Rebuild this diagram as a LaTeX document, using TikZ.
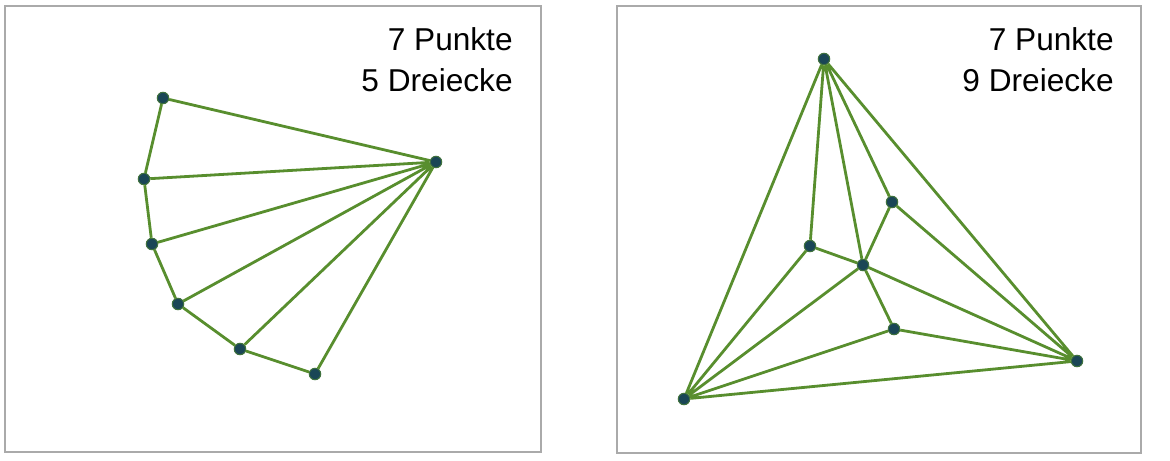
\documentclass[tikz,border=0pt]{standalone}
\usepackage{fontspec}
\setmainfont{Liberation Sans}
\usetikzlibrary{positioning}

\definecolor{edgegreen}{RGB}{88,142,46}
\definecolor{dotblue}{RGB}{26,70,86}
\definecolor{framegray}{RGB}{170,170,170}

\begin{document}
\begin{tikzpicture}[x=0.02cm,y=-0.02cm,
		pt/.style={circle,inner sep=0pt,minimum size=0.23cm,
			fill=dotblue,draw=edgegreen!60!dotblue,line width=0.6pt},
		seg/.style={draw=edgegreen,line width=0.056cm},
		frame/.style={draw=framegray,line width=0.04cm},
		info/.style={anchor=base east,inner sep=0pt,
			font=\fontsize{18}{23}\selectfont}]

\useasboundingbox (0,0) rectangle (1170,460);

% Frames
\node[frame,inner sep=0pt,minimum width=10.72cm,minimum height=8.92cm] (boxL) at (273,229) {};
\node[frame,inner sep=0pt,minimum width=10.48cm,minimum height=8.94cm] (boxR) at (879,229.5) {};

% Labels
\node[info] (ptsL) at (513,50) {7 Punkte};
\node[info] (triL) at (513,91) {5 Dreiecke};
\node[info] (ptsR) at (1114,50) {7 Punkte};
\node[info] (triR) at (1114,91) {9 Dreiecke};

% Left: fan
\node[pt] (a) at (163,98) {};
\node[pt] (b) at (144,179) {};
\node[pt] (c) at (152,244) {};
\node[pt] (d) at (178,304) {};
\node[pt] (e) at (240,349) {};
\node[pt] (f) at (315,374) {};
\node[pt] (h) at (436,162) {};

\draw[seg]
	(a) -- (b) -- (c) -- (d) -- (e) -- (f)
	(h) -- (a) (h) -- (b) (h) -- (c) (h) -- (d) (h) -- (e) (h) -- (f);

% Right: triangle with inner points
\node[pt] (top) at (824,59) {};
\node[pt] (lo) at (684,399) {};
\node[pt] (ro) at (1077,361) {};
\node[pt] (p1) at (892,202) {};
\node[pt] (p2) at (810,246) {};
\node[pt] (m) at (863,265) {};
\node[pt] (p4) at (894,329) {};

\draw[seg]
	(top) -- (lo) -- (ro) -- (top)
	(top) -- (p2) (top) -- (m) (top) -- (p1)
	(p1) -- (m) (p1) -- (ro)
	(p2) -- (m) (p2) -- (lo)
	(m) -- (lo) (m) -- (ro) (m) -- (p4)
	(p4) -- (lo) (p4) -- (ro);
\end{tikzpicture}
\end{document}
